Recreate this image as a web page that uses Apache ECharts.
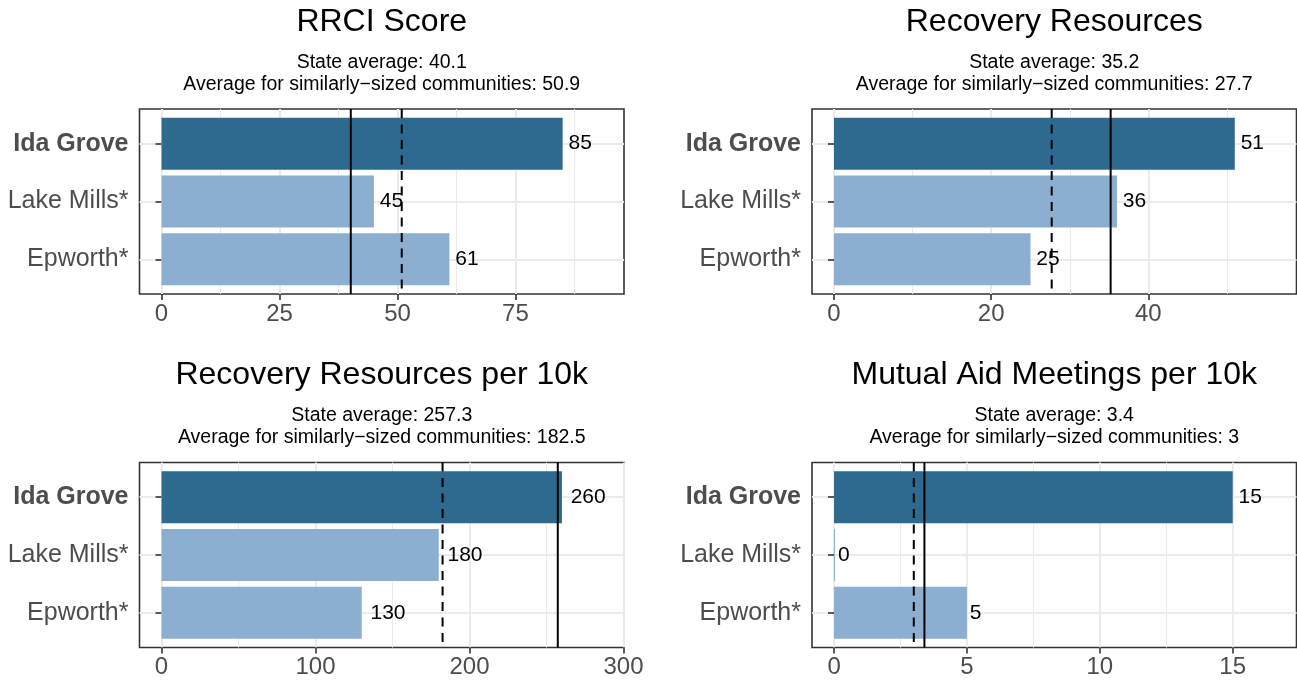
<!DOCTYPE html>
<html>
<head>
<meta charset="utf-8">
<title>RRCI community comparison</title>
<script src="https://cdn.jsdelivr.net/npm/echarts@6/dist/echarts.min.js"></script>
<style>
  html, body { margin: 0; padding: 0; background: #fff; }
  #chart { width: 1297px; height: 681px; }
</style>
</head>
<body>
<div id="chart"></div>
<script>
// communities, top to bottom
const communities = ['Ida Grove', 'Lake Mills*', 'Epworth*'];

const panelTitles = ['RRCI Score', 'Recovery Resources', 'Recovery Resources per 10k', 'Mutual Aid Meetings per 10k'];

const rrciScore = [85, 45, 61];
const recoveryResources = [51, 36, 25];
const resourcesPer10k = [260, 180, 130];
const meetingsPer10k = [15, 0, 5];

const stateAverages = [40.1, 35.2, 257.3, 3.4];
const sizeAverages = [50.9, 27.7, 182.5, 3];

// x tick labels, minor grid positions and axis limits per panel
const xTicks = [[0, 25, 50, 75], [0, 20, 40], [0, 100, 200, 300], [0, 5, 10, 15]];
const xMinorTicks = [[12.5, 37.5, 62.5, 87.5], [10, 30, 50], [50, 150, 250], [2.5, 7.5, 12.5]];
const xLimits = [[-4.67, 98.0], [-2.8, 58.85], [-14.3, 300.3], [-0.83, 17.4]];

const panelValues = [rrciScore, recoveryResources, resourcesPer10k, meetingsPer10k];

const FONT = '"Liberation Sans", Arial, Helvetica, sans-serif';
const DARK = '#2E6A8F';
const LIGHT = '#8CAED1';
const LABEL_SIZE = 21;

// panel frames
const frames = [
  { left: 139.5, top: 109 },
  { left: 812, top: 109 },
  { left: 139.5, top: 462.5 },
  { left: 812, top: 462.5 }
];
const PW = 484.5;
const PH = 185;

const rows = communities.map((c, i) => i + 1);

function renderBar(params, api) {
  const v = api.value(0);
  const row = api.value(1);
  const start = api.coord([0, row]);
  const end = api.coord([v, row]);
  const h = api.size([0, 0.9])[1];
  const w = Math.max(end[0] - start[0], 1);
  const txt = String(v);
  // label pushed right by a quarter of its own width (like hjust = -0.25)
  const gap = 0.25 * txt.length * 0.556 * LABEL_SIZE;
  return {
    type: 'group',
    children: [
      {
        type: 'rect',
        shape: { x: start[0], y: start[1] - h / 2, width: w, height: h },
        style: { fill: row === 1 ? DARK : LIGHT }
      },
      {
        type: 'text',
        x: start[0] + w + gap,
        y: end[1],
        style: {
          text: txt, fill: '#000', fontSize: LABEL_SIZE, fontFamily: FONT,
          align: 'left', verticalAlign: 'middle'
        }
      }
    ]
  };
}

function renderAvgLine(params, api) {
  const x = api.coord([api.value(0), 1])[0];
  const cs = params.coordSys;
  return {
    type: 'line',
    shape: { x1: x, y1: cs.y, x2: x, y2: cs.y + cs.height },
    style: {
      stroke: '#000', lineWidth: 2,
      lineDash: api.value(1) ? [9, 6.5] : null
    }
  };
}

const grid = [];
const xAxis = [];
const yAxis = [];
const series = [];
const title = [];

frames.forEach((f, i) => {
  grid.push({
    left: f.left, top: f.top, width: PW, height: PH,
    show: true, borderColor: '#333333', borderWidth: 1.6,
    backgroundColor: 'transparent',
    containLabel: false, outerBoundsMode: 'none'
  });

  // major axis
  xAxis.push({
    gridIndex: i, type: 'value', position: 'bottom',
    min: xLimits[i][0], max: xLimits[i][1],
    axisLine: { show: false },
    axisTick: { show: true, length: 6, customValues: xTicks[i], lineStyle: { color: '#333333', width: 1.6 } },
    axisLabel: { customValues: xTicks[i], color: '#4D4D4D', fontSize: 24, fontFamily: FONT, margin: 8 },
    splitLine: { show: true, lineStyle: { color: '#EBEBEB', width: 2 } }
  });
  // minor grid lines
  xAxis.push({
    gridIndex: i, type: 'value', position: 'bottom',
    min: xLimits[i][0], max: xLimits[i][1],
    axisLine: { show: false },
    axisTick: { show: false, customValues: xMinorTicks[i] },
    axisLabel: { show: false },
    splitLine: { show: true, lineStyle: { color: '#EBEBEB', width: 1 } }
  });

  yAxis.push({
    gridIndex: i, type: 'value', inverse: true, min: 0.4, max: 3.6,
    axisLine: { show: false },
    axisTick: { show: true, length: 6, customValues: rows, lineStyle: { color: '#333333', width: 1.6 } },
    axisLabel: {
      customValues: rows, color: '#4D4D4D', fontSize: 25, fontFamily: FONT, margin: 11,
      formatter: v => v === 1 ? '{b|' + communities[0] + '}' : communities[v - 1],
      rich: { b: { fontWeight: 'bold', color: '#4D4D4D', fontSize: 25, fontFamily: FONT } }
    },
    splitLine: { show: true, lineStyle: { color: '#EBEBEB', width: 2 } }
  });

  series.push({
    type: 'custom', xAxisIndex: i * 2, yAxisIndex: i, z: 3,
    renderItem: renderBar,
    data: panelValues[i].map((v, r) => [v, rows[r]])
  });
  series.push({
    type: 'custom', xAxisIndex: i * 2, yAxisIndex: i, z: 5,
    renderItem: renderAvgLine,
    data: [[stateAverages[i], 0], [sizeAverages[i], 1]]
  });

  title.push({
    text: panelTitles[i],
    subtext: 'State average: ' + stateAverages[i] +
      '\nAverage for similarly\u2212sized communities: ' + sizeAverages[i],
    left: f.left + PW / 2, top: f.top - 103, textAlign: 'center', padding: 0, itemGap: 13.5,
    textStyle: { fontFamily: FONT, fontSize: 32, fontWeight: 'normal', color: '#000', lineHeight: 32 },
    subtextStyle: { fontFamily: FONT, fontSize: 19.5, color: '#000', lineHeight: 22 }
  });
});

const chart = echarts.init(document.getElementById('chart'));
chart.setOption({
  animation: false,
  backgroundColor: '#fff',
  title, grid, xAxis, yAxis, series
});
</script>
</body>
</html>
